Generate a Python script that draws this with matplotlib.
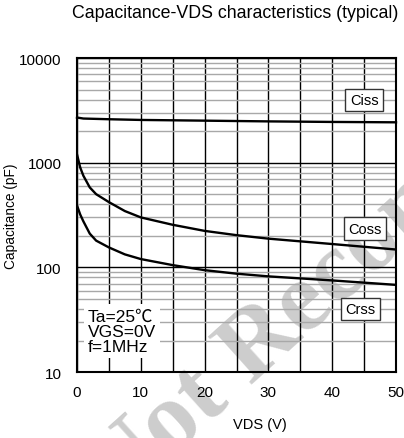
import numpy as np
import matplotlib.pyplot as plt
from matplotlib.ticker import LogLocator, FixedLocator, NullFormatter

plt.rcParams['font.family'] = ['Liberation Sans', 'DejaVu Sans']

# Data (VDS in V, capacitance in pF)
vds_ciss = [0, 1, 5, 10, 20, 30, 40, 50]
ciss = [2700, 2640, 2600, 2560, 2520, 2480, 2450, 2430]

vds = [0, 0.5, 1, 2, 3, 5, 7.5, 10, 15, 20, 25, 30, 40, 50]
coss = [1200, 900, 750, 580, 500, 420, 345, 300, 255, 223, 203, 188, 167, 148]
crss = [390, 320, 275, 210, 180, 155, 133, 120, 105, 94, 87, 82, 75, 68]

x_ticks = [0, 10, 20, 30, 40, 50]
y_ticks = [10, 100, 1000, 10000]

fig = plt.figure(figsize=(4.04, 4.39), dpi=100)
ax = fig.add_axes([0.1906, 0.1503, 0.7896, 0.7153])
ax.set_zorder(1)
ax.set_facecolor('none')

# watermark (behind the chart)
wm = dict(fontsize=72, family=['Liberation Serif', 'DejaVu Serif'], weight='bold',
          color='#cdcdcd', rotation=42, rotation_mode='anchor', va='baseline', zorder=-1)
fig.text(250 / 404, 1 - 385 / 439, 'Recommended', ha='left', **wm)
fig.text(231 / 404, 1 - 402 / 439, 'Not', ha='right', **wm)

ax.plot(vds_ciss, ciss, color='black', lw=1.7, zorder=4, clip_on=False)
ax.plot(vds, coss, color='black', lw=1.7, zorder=4)
ax.plot(vds, crss, color='black', lw=1.7, zorder=4)

ax.set_yscale('log')
ax.set_xlim(0, 50)
ax.set_ylim(10, 10000)
ax.xaxis.set_major_locator(FixedLocator(x_ticks))
ax.xaxis.set_minor_locator(FixedLocator([5, 15, 25, 35, 45]))
ax.yaxis.set_major_locator(FixedLocator(y_ticks))
ax.yaxis.set_minor_locator(LogLocator(base=10, subs=np.arange(2, 10)))
ax.yaxis.set_minor_formatter(NullFormatter())
ax.set_yticklabels([str(t) for t in y_ticks])
ax.tick_params(which='both', length=0, labelsize=11)
ax.tick_params(axis='x', pad=9)
ax.tick_params(axis='y', pad=11)

ax.grid(True, which='major', axis='both', color='black', lw=1.0, zorder=2)
ax.grid(True, which='minor', axis='x', color='black', lw=1.0, zorder=2)
ax.grid(True, which='minor', axis='y', color='#a8a8a8', lw=1.0, zorder=2)
ax.set_axisbelow(False)
for s in ax.spines.values():
    s.set_linewidth(1.5)
    s.set_zorder(5)

box = dict(boxstyle='square,pad=0.3', fc='white', ec='#333333', lw=1.0)
ax.text(45, 3980, 'Ciss', ha='center', va='center', fontsize=10.5, bbox=box, zorder=6)
ax.text(45.1, 235, 'Coss', ha='center', va='center', fontsize=10.5, bbox=box, zorder=6)
ax.text(44.4, 40, 'Crss', ha='center', va='center', fontsize=10.5, bbox=box, zorder=6)

ax.text(1.7, 24.5, 'Ta=25\u2103\nVGS=0V\nf=1MHz', ha='left', va='center', fontsize=12.5,
        linespacing=1.0, zorder=6, family=['Liberation Sans', 'Noto Sans CJK JP'],
        bbox=dict(boxstyle='square,pad=0.25', fc='white', ec='none'))

fig.text(235 / 404, 1 - 13 / 439, 'Capacitance-VDS characteristics (typical)',
         ha='center', va='center', fontsize=12.8)
fig.text(260 / 404, 1 - 425 / 439, 'VDS (V)', ha='center', va='center', fontsize=10.5)
fig.text(11 / 404, 1 - 216 / 439, 'Capacitance (pF)', ha='center', va='center',
         rotation=90, fontsize=9.8)

fig.savefig('out.png', dpi=100)
